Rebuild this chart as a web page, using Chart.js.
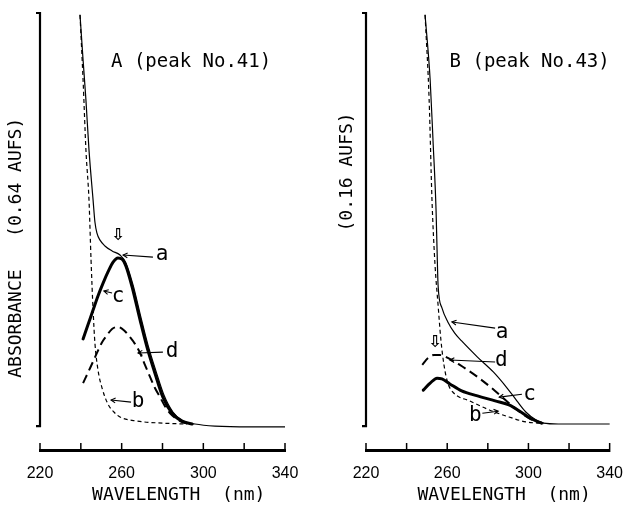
<!DOCTYPE html>
<html><head><meta charset="utf-8">
<script src="https://cdn.jsdelivr.net/npm/chart.js@4.4.1/dist/chart.umd.min.js"></script>
<style>
html,body{margin:0;padding:0;background:#fff;}
#wrap{position:relative;width:629px;height:506px;overflow:hidden;background:#fff;}
canvas{position:absolute;top:0;}
#cA{left:0;} #cB{left:314px;}
</style></head><body>
<div id="wrap"><canvas id="cA" width="315" height="506"></canvas><canvas id="cB" width="315" height="506"></canvas></div>
<script>
// ---- axis ticks ----
const xTicks = [220, 240, 260, 280, 300, 320, 340];
const xTickLabels = ['220', '', '260', '', '300', '', '340'];

// ---- Panel A (peak No.41): wavelength (nm) / relative absorbance ----
const A_a_nm  = [239.6, 241.1, 242.5, 244.0, 246.0, 246.9, 247.9, 249.4, 251.8, 255.3, 259.2, 262.1, 265.6, 269.5, 272.9, 276.8, 280.7, 285.1, 290.0, 295.9, 305.7, 322.9, 340.0];
const A_a_abs = [99.5, 88.6, 78.9, 66.8, 54.7, 49.4, 46.7, 45.0, 43.6, 42.4, 41.4, 39.5, 34.1, 26.2, 19.6, 13.3, 7.5, 3.4, 1.2, 0.5, 0.0, -0.2, -0.2];
const A_b_nm  = [239.6, 241.1, 242.5, 244.0, 245.0, 246.0, 246.9, 248.4, 250.4, 253.3, 256.2, 259.2, 267.5, 280.2, 291.0];
const A_b_abs = [99.5, 83.8, 66.8, 54.7, 40.2, 28.1, 20.1, 13.6, 9.2, 5.3, 3.4, 2.2, 1.2, 0.7, 0.5];
const A_c_nm  = [241.1, 243.5, 246.0, 248.4, 250.9, 253.3, 255.8, 258.2, 260.2, 262.1, 265.1, 269.0, 272.4, 276.3, 280.2, 284.7, 289.6, 294.5];
const A_c_abs = [21.1, 24.5, 28.1, 31.5, 34.6, 37.3, 39.7, 40.7, 40.4, 38.7, 33.7, 25.7, 19.1, 12.8, 7.0, 3.1, 1.2, 0.5];
const A_d_nm  = [241.1, 244.5, 247.9, 250.4, 252.8, 255.3, 258.2, 261.1, 264.1, 266.5, 269.0, 271.4, 273.9, 276.3, 278.8, 281.2, 283.7, 288.6, 292.5];
const A_d_abs = [10.4, 14.0, 17.7, 20.3, 22.0, 23.5, 24.0, 23.2, 21.5, 19.9, 17.7, 14.8, 11.9, 9.2, 7.0, 4.8, 3.1, 1.2, 0.5];

// ---- Panel B (peak No.43) ----
const B_a_nm  = [249.1, 251.6, 253.0, 254.5, 255.0, 255.5, 257.4, 260.3, 263.7, 267.1, 274.9, 282.7, 289.5, 294.3, 298.7, 303.6, 307.4, 314.7, 340.0];
const B_a_abs = [99.5, 83.8, 69.2, 52.3, 42.6, 34.1, 28.6, 25.2, 22.5, 20.6, 16.7, 13.1, 9.2, 6.1, 3.4, 1.5, 0.7, 0.5, 0.5];
const B_b_nm  = [249.1, 251.1, 252.5, 254.0, 255.5, 256.9, 258.4, 260.3, 263.2, 271.0, 280.7, 290.4, 298.7, 305.0];
const B_b_abs = [99.5, 78.9, 54.7, 39.0, 29.3, 20.8, 14.8, 10.4, 8.0, 6.1, 3.9, 2.2, 1.0, 0.7];
const B_c_nm  = [248.2, 251.6, 255.0, 257.4, 261.3, 267.1, 274.9, 283.6, 290.4, 296.3, 301.6, 306.5];
const B_c_abs = [8.7, 10.4, 11.6, 11.4, 10.2, 8.5, 7.3, 6.1, 5.1, 3.4, 1.7, 0.7];
const B_d_nm  = [247.7, 250.6, 253.5, 256.4, 260.3, 266.2, 274.9, 283.6, 291.4, 298.7, 304.0, 307.4];
const B_d_abs = [14.8, 16.5, 17.2, 17.2, 16.5, 14.8, 11.9, 8.5, 5.1, 2.4, 1.0, 0.7];

// ---- curve labels (text position and leader arrow, in data units) ----
const labelText = ['a', 'b', 'c', 'd'];
const A_lab_nm = [279.8, 268.0, 258.2, 284.7];
const A_lab_abs = [41.2, 5.6, 31.2, 17.9];
const A_from_nm = [275.3, 264.6, 255.3, 280.2];
const A_from_abs = [40.9, 5.8, 32.2, 17.9];
const A_to_nm = [260.7, 254.8, 251.3, 268.0];
const A_to_abs = [41.4, 6.3, 32.7, 17.7];
const B_lab_nm = [287.0, 273.9, 300.6, 286.6];
const B_lab_abs = [22.5, 2.2, 7.5, 15.5];
const B_from_nm = [283.6, 277.3, 296.8, 283.6];
const B_from_abs = [23.7, 3.1, 7.7, 15.5];
const B_to_nm = [262.3, 285.1, 285.6, 261.3];
const B_to_abs = [25.2, 3.6, 7.0, 16.0];

const titles = ['A (peak No.41)', 'B (peak No.43)'];
const yTitles = ['ABSORBANCE   (0.64 AUFS)   ', '           (0.16 AUFS)'];
const xTitle = '   WAVELENGTH  (nm)';

const pts = (xs, ys) => xs.map((v, i) => ({x: v, y: ys[i]}));

function makeDatasets(a_nm, a_abs, b_nm, b_abs, c_nm, c_abs, d_nm, d_abs) {
  const base = {pointRadius: 0, borderColor: '#000', backgroundColor: '#000', fill: false, cubicInterpolationMode: 'monotone', borderCapStyle: 'round', borderJoinStyle: 'round'};
  return [
    Object.assign({label: 'a', data: pts(a_nm, a_abs), borderWidth: 1.2}, base),
    Object.assign({label: 'b', data: pts(b_nm, b_abs), borderWidth: 1.2, borderDash: [4, 3]}, base, {borderCapStyle: 'butt'}),
    Object.assign({label: 'c', data: pts(c_nm, c_abs), borderWidth: 3}, base),
    Object.assign({label: 'd', data: pts(d_nm, d_abs), borderWidth: 2, borderDash: [9, 5]}, base, {borderCapStyle: 'butt'})
  ];
}

function decor(p) {
  return {
    id: 'decor',
    afterDraw(chart) {
      const {ctx, chartArea, scales: {x, y}} = chart;
      ctx.save();
      ctx.strokeStyle = '#000'; ctx.fillStyle = '#000';
      // y axis bracket
      const x0 = chartArea.left;
      const yb = y.getPixelForValue(0), yt = y.getPixelForValue(100);
      ctx.lineWidth = 2.2;
      ctx.beginPath(); ctx.moveTo(x0 - 4, yt); ctx.lineTo(x0, yt); ctx.lineTo(x0, yb); ctx.lineTo(x0 - 4, yb); ctx.stroke();
      // x tick marks pointing up
      ctx.lineWidth = 1.5;
      x.ticks.forEach(t => {
        const px = x.getPixelForValue(t.value);
        ctx.beginPath(); ctx.moveTo(px, chartArea.bottom - 7); ctx.lineTo(px, chartArea.bottom + 2); ctx.stroke();
      });
      // panel title
      ctx.font = '19px "DejaVu Sans Mono"';
      ctx.textAlign = 'center'; ctx.textBaseline = 'middle';
      ctx.fillText(p.title, x.getPixelForValue(p.titleNm), y.getPixelForValue(88.1));
      // curve labels
      ctx.font = '21px "DejaVu Sans Mono"';
      labelText.forEach((t, i) => {
        ctx.fillText(t, x.getPixelForValue(p.labNm[i]), y.getPixelForValue(p.labAbs[i]) - 1);
        const fx = x.getPixelForValue(p.fromNm[i]), fy = y.getPixelForValue(p.fromAbs[i]);
        const tx = x.getPixelForValue(p.toNm[i]), ty = y.getPixelForValue(p.toAbs[i]);
        ctx.lineWidth = 1.1;
        ctx.beginPath(); ctx.moveTo(fx, fy); ctx.lineTo(tx, ty); ctx.stroke();
        const ang = Math.atan2(ty - fy, tx - fx);
        ctx.beginPath();
        ctx.moveTo(tx - 5 * Math.cos(ang - 0.5), ty - 5 * Math.sin(ang - 0.5));
        ctx.lineTo(tx, ty);
        ctx.lineTo(tx - 5 * Math.cos(ang + 0.5), ty - 5 * Math.sin(ang + 0.5));
        ctx.stroke();
      });
      // open down-arrow marker
      ctx.font = 'bold 16px "DejaVu Sans"';
      ctx.fillText('\u21E9', x.getPixelForValue(p.arrowNm), y.getPixelForValue(p.arrowAbs));
      ctx.restore();
    }
  };
}

function makeChart(id, ds, yTitle, yTitlePad, yWidth, padRight, p) {
  return new Chart(document.getElementById(id), {
    type: 'line',
    data: {datasets: ds},
    options: {
      responsive: false, animation: false, devicePixelRatio: 1,
      layout: {padding: {top: 13, right: padRight, left: 0, bottom: 0}},
      plugins: {legend: {display: false}, tooltip: {enabled: false}},
      scales: {
        x: {
          type: 'linear', min: 220, max: 340,
          afterBuildTicks: s => { s.ticks = xTicks.map(v => ({value: v})); },
          ticks: {
            autoSkip: false, maxRotation: 0, color: '#000', padding: 6,
            font: {family: '"Liberation Sans"', size: 16},
            callback: v => xTickLabels[xTicks.indexOf(v)]
          },
          grid: {display: false},
          border: {display: true, width: 3, color: '#000'},
          title: {display: true, text: xTitle, color: '#000', font: {family: '"DejaVu Sans Mono"', size: 18}, padding: {top: 0, bottom: 0}},
          afterFit: s => { s.height = 56; }
        },
        y: {
          type: 'linear', min: -5.8, max: 100,
          ticks: {display: false},
          grid: {display: false},
          border: {display: false},
          title: {display: true, text: yTitle, color: '#000', font: {family: '"DejaVu Sans Mono"', size: 18}, padding: {top: yTitlePad, bottom: 0}},
          afterFit: s => { s.width = yWidth; }
        }
      }
    },
    plugins: [decor(p)]
  });
}

makeChart('cA', makeDatasets(A_a_nm, A_a_abs, A_b_nm, A_b_abs, A_c_nm, A_c_abs, A_d_nm, A_d_abs),
  yTitles[0], 6, 40, 30,
  {title: titles[0], titleNm: 294.0, labNm: A_lab_nm, labAbs: A_lab_abs, fromNm: A_from_nm, fromAbs: A_from_abs, toNm: A_to_nm, toAbs: A_to_abs, arrowNm: 258.2, arrowAbs: 46.0});
makeChart('cB', makeDatasets(B_a_nm, B_a_abs, B_b_nm, B_b_abs, B_c_nm, B_c_abs, B_d_nm, B_d_abs),
  yTitles[1], 23, 52, 17,
  {title: titles[1], titleNm: 300.6, labNm: B_lab_nm, labAbs: B_lab_abs, fromNm: B_from_nm, fromAbs: B_from_abs, toNm: B_to_nm, toAbs: B_to_abs, arrowNm: 254.0, arrowAbs: 20.1});
</script>
</body></html>
